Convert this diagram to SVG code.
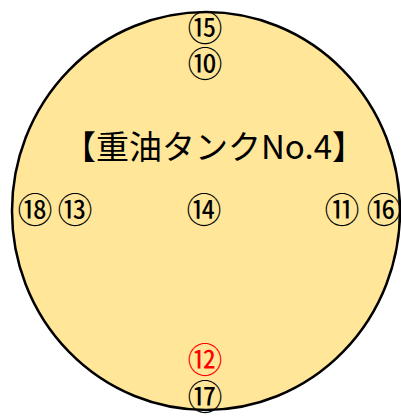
<svg xmlns="http://www.w3.org/2000/svg" width="401" height="416" viewBox="0 0 401 416">
<style>
.t{font-family:"Noto Sans CJK JP","Noto Sans",sans-serif;text-anchor:middle;dominant-baseline:central;fill:#000}
.n{font-size:35px}
.red{fill:#FF0000}
.title{font-size:33px}
</style>
<rect width="401" height="416" fill="#fff"/>
<g id="tank">
<ellipse cx="206" cy="211" rx="194" ry="199" fill="#FFE699" stroke="#000" stroke-width="2.5"/>
<text class="t title" x="214" y="145">【重油タンクNo.4】</text>
</g>
<g id="connectors"></g>
<g id="n15"><text class="t n" x="205" y="25">⑮</text></g>
<g id="n10"><text class="t n" x="205" y="61">⑩</text></g>
<g id="n18"><text class="t n" x="35" y="207">⑱</text></g>
<g id="n13"><text class="t n" x="75" y="207">⑬</text></g>
<g id="n14"><text class="t n" x="204" y="207">⑭</text></g>
<g id="n11"><text class="t n" x="342" y="207">⑪</text></g>
<g id="n16"><text class="t n" x="384" y="207">⑯</text></g>
<g id="n12"><text class="t n red" x="205" y="357">⑫</text></g>
<g id="n17"><text class="t n" x="205" y="394">⑰</text></g>
</svg>
